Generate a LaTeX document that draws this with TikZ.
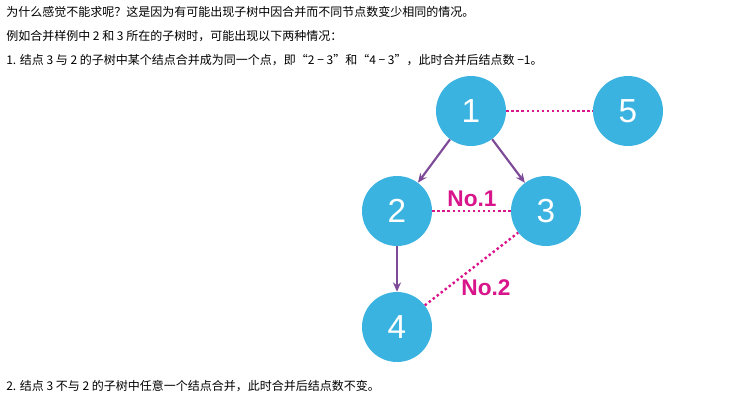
\documentclass[tikz,border=0pt]{standalone}
\usepackage{fontspec}
\setmainfont{Liberation Sans}
\newfontfamily\cjk{Noto Sans CJK SC}
\usetikzlibrary{arrows.meta}
\definecolor{cblue}{HTML}{3AB3E0}
\definecolor{cpurp}{HTML}{7D4B98}
\definecolor{cmag}{HTML}{D9158B}
\begin{document}
\begin{tikzpicture}[x=0.75pt,y=-0.75pt,
  vert/.style={circle,fill=cblue,minimum size=52.5pt,inner sep=0pt,text=white,font=\fontsize{25}{25}\selectfont},
  txt/.style={anchor=west,inner sep=0pt,font=\cjk\fontsize{9}{11}\selectfont},
  arr/.style={draw=cpurp,line width=1.6pt,-{Stealth[length=7pt,width=6pt]}},
  dot/.style={draw=cmag,line width=1.8pt,dotted},
  lab/.style={text=cmag,font=\bfseries\fontsize{17}{17}\selectfont}]
\useasboundingbox (0,0) rectangle (744,401);
\fill[white] (0,0) rectangle (744,401);
\node[txt] (t1) at (6,12) {为什么感觉不能求呢？这是因为有可能出现子树中因合并而不同节点数变少相同的情况。};
\node[txt] (t2) at (6,36) {例如合并样例中 2 和 3 所在的子树时，可能出现以下两种情况：};
\node[txt] (t3) at (6,60) {1. 结点 3 与 2 的子树中某个结点合并成为同一个点，即“2 − 3”和“4 − 3”，此时合并后结点数 −1。};
\node[txt] (t4) at (6,386) {2. 结点 3 不与 2 的子树中任意一个结点合并，此时合并后结点数不变。};
\node[vert] (n1) at (471,111) {1};
\node[vert] (n5) at (628,111) {5};
\node[vert] (n2) at (397,211) {2};
\node[vert] (n3) at (546,211) {3};
\node[vert] (n4) at (397,327) {4};
\draw[dot] (n1) -- (n5);
\draw[dot] (n2) -- (n3);
\draw[dot] (n4) -- (n3);
\draw[arr] (n1) -- (n2);
\draw[arr] (n1) -- (n3);
\draw[arr] (n2) -- (n4);
\node[lab] (l1) at (472,199) {No.1};
\node[lab] (l2) at (486,288) {No.2};
\end{tikzpicture}
\end{document}
